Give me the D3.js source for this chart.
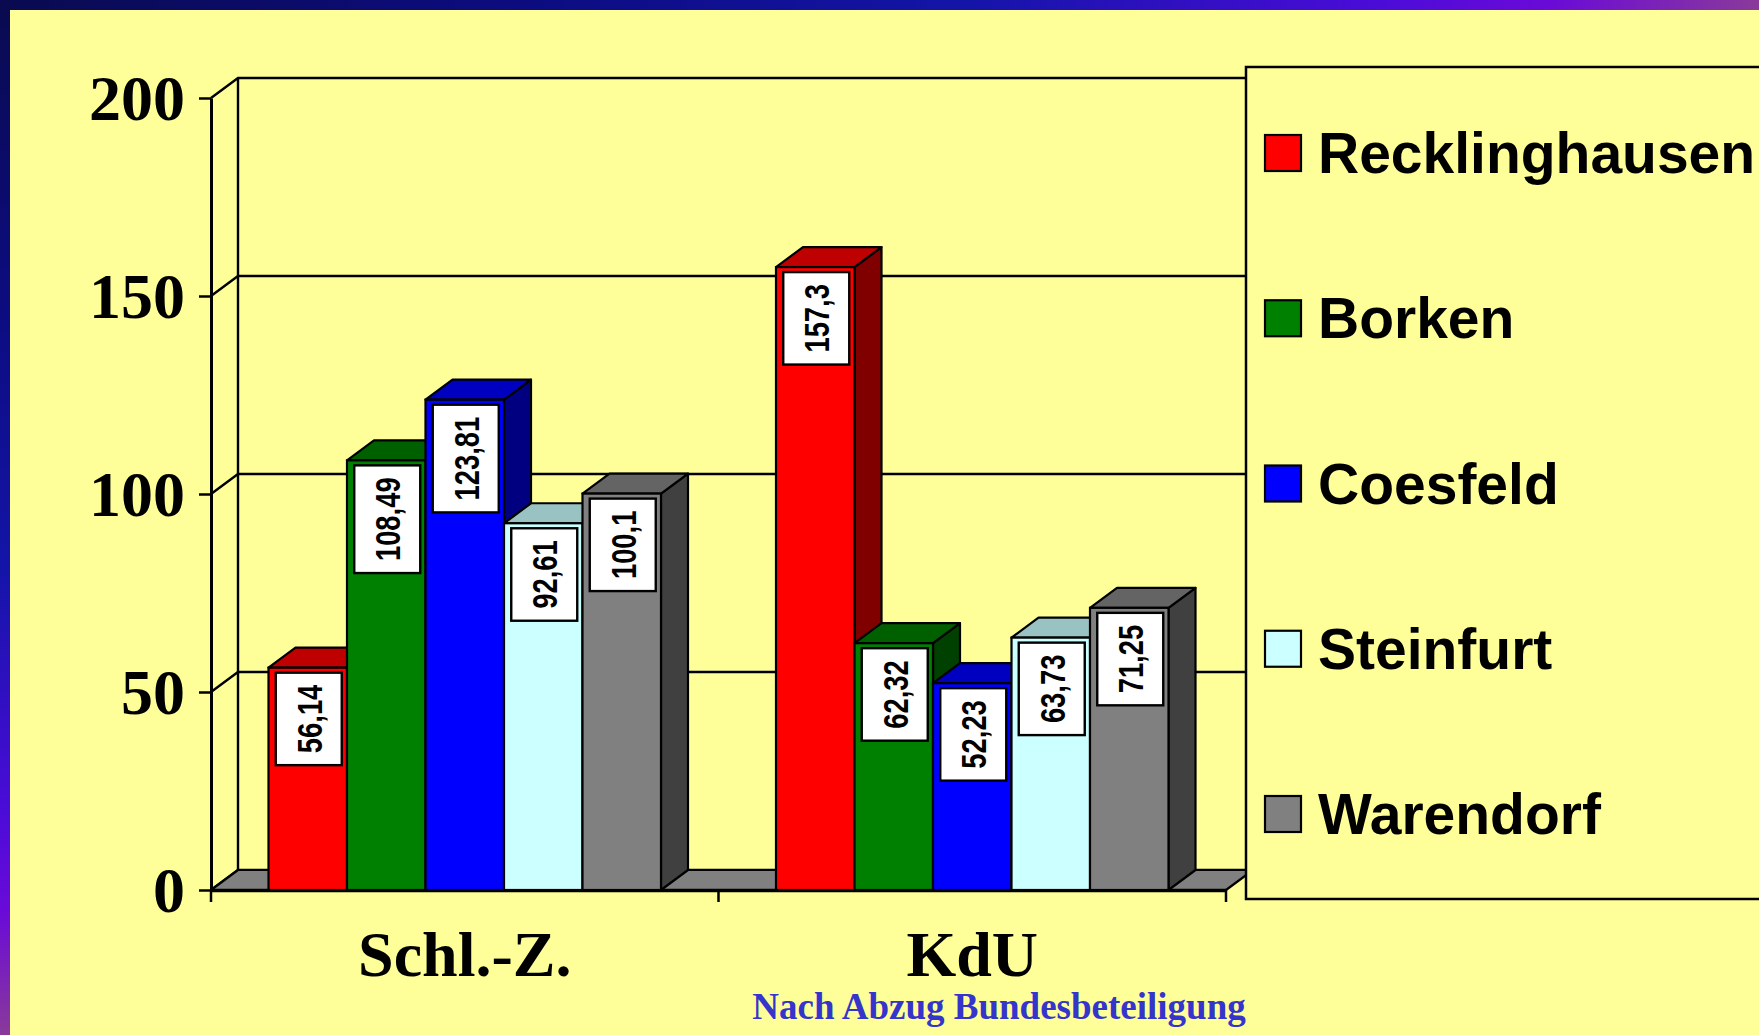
<!DOCTYPE html>
<html>
<head>
<meta charset="utf-8">
<script src="https://cdn.jsdelivr.net/npm/d3@7"></script>
<style>
  html, body { margin: 0; padding: 0; background: #FFFF99; overflow: hidden; }
  svg { display: block; }
</style>
</head>
<body>
<script>
// ---------- data ----------
const categories = ["Schl.-Z.", "KdU"];
const seriesNames = ["Recklinghausen", "Borken", "Coesfeld", "Steinfurt", "Warendorf"];
const valuesSchlZ = [56.14, 108.49, 123.81, 92.61, 100.1];
const valuesKdU = [157.3, 62.32, 52.23, 63.73, 71.25];
const yTickValues = [0, 50, 100, 150, 200];
const frontColors = ["#FF0000", "#008000", "#0000FF", "#CCFFFF", "#808080"];
const topColors = ["#BE0000", "#006000", "#0000C0", "#99C2C2", "#646464"];
const sideColors = ["#800000", "#004000", "#000080", "#7FA0A0", "#404040"];
const footnote = "Nach Abzug Bundesbeteiligung";

const W = 1759, H = 1035;
const DX = 27, DY = 20; // 3D depth offset

const serif = "'Liberation Serif','Times New Roman',Times,serif";
const sans = "'Liberation Sans',Arial,Helvetica,sans-serif";

const svg = d3.select("body").append("svg").attr("width", W).attr("height", H);

// ---------- frame background ----------
const defs = svg.append("defs");
const grad = defs.append("radialGradient").attr("id", "frame")
  .attr("cx", 0).attr("cy", 0).attr("r", 1).attr("fx", 0).attr("fy", 0);
[[0, "#0A0A50"], [0.3, "#0C0C80"], [0.55, "#1414A8"], [0.78, "#4A0CD8"], [0.88, "#6A0AD8"], [1, "#8A3A9A"]]
  .forEach(([o, c]) => grad.append("stop").attr("offset", o).attr("stop-color", c));
svg.append("rect").attr("width", W).attr("height", H).attr("fill", "url(#frame)");
svg.append("rect").attr("x", 10).attr("y", 10).attr("width", W - 10).attr("height", H - 10).attr("fill", "#FFFF99");

// ---------- scales ----------
const x0 = d3.scaleBand().domain(categories).range([211, 1226]).paddingInner(0).paddingOuter(0);
const innerPad = 57.5;
const x1 = d3.scaleBand().domain(seriesNames).range([innerPad, x0.bandwidth() - innerPad]).padding(0);
const y = d3.scaleLinear().domain([0, 200]).range([890, 98]);
const color = d3.scaleOrdinal().domain(seriesNames).range(frontColors);
const topColor = d3.scaleOrdinal().domain(seriesNames).range(topColors);
const sideColor = d3.scaleOrdinal().domain(seriesNames).range(sideColors);

const xL = x0.range()[0], xR = x0.range()[1];
const y0 = y(0), yTop = y(200);
const stroke = "#000";

const chart = svg.append("g");

// ---------- walls ----------
yTickValues.forEach(v => {
  chart.append("path")
    .attr("d", `M${xL},${y(v)} L${xL + DX},${y(v) - DY} L${xR + DX},${y(v) - DY}`)
    .attr("fill", "none").attr("stroke", stroke).attr("stroke-width", 2.4);
});
chart.append("line").attr("x1", xL + DX).attr("x2", xL + DX).attr("y1", yTop - DY).attr("y2", y0 - DY)
  .attr("stroke", stroke).attr("stroke-width", 2.4);

// floor
chart.append("path")
  .attr("d", `M${xL},${y0} L${xR},${y0} L${xR + DX},${y0 - DY} L${xL + DX},${y0 - DY} Z`)
  .attr("fill", "#808080").attr("stroke", stroke).attr("stroke-width", 2.2).attr("stroke-linejoin", "round");

// ---------- y axis ----------
const yAxis = d3.axisLeft(y).tickValues(yTickValues).tickSize(12).tickSizeOuter(0).tickPadding(14)
  .tickFormat(d3.format("d"));
const gy = chart.append("g").attr("transform", `translate(${xL},0)`).call(yAxis);
gy.select(".domain").attr("stroke", stroke).attr("stroke-width", 3);
gy.selectAll(".tick line").attr("stroke", stroke).attr("stroke-width", 2.5);
gy.selectAll(".tick text").attr("font-family", serif).attr("font-weight", "bold")
  .attr("font-size", 64).attr("fill", "#000").attr("dy", "0.34em");

// ---------- x axis ----------
const xAxis = d3.axisBottom(x0).tickSize(0).tickSizeOuter(0).tickFormat("");
const gx = chart.append("g").attr("transform", `translate(0,${y0})`).call(xAxis);
gx.select(".domain").attr("stroke", stroke).attr("stroke-width", 3.5);
gx.selectAll(".tick").remove();
const boundaries = [xL, ...categories.slice(1).map(c => x0(c)), xR];
gx.selectAll("line.bt").data(boundaries).join("line").attr("class", "bt")
  .attr("x1", d => d).attr("x2", d => d).attr("y1", 0).attr("y2", 12)
  .attr("stroke", stroke).attr("stroke-width", 2.5);
gx.selectAll("text.cat").data(categories).join("text").attr("class", "cat")
  .attr("x", d => x0(d) + x0.bandwidth() / 2).attr("y", 86)
  .attr("text-anchor", "middle").attr("font-family", serif).attr("font-weight", "bold")
  .attr("font-size", 64).attr("fill", "#000").text(d => d);

// ---------- bars ----------
const valuesByCat = { "Schl.-Z.": valuesSchlZ, "KdU": valuesKdU };
const fmt = v => String(v).replace(".", ",");

categories.forEach(cat => {
  const g = chart.append("g");
  const vals = valuesByCat[cat];
  seriesNames.forEach((s, i) => {
    const v = vals[i];
    const bx = x0(cat) + x1(s), bw = x1.bandwidth();
    const by = y(v);
    const bg = g.append("g");
    bg.append("path")
      .attr("d", `M${bx + bw},${by} L${bx + bw + DX},${by - DY} L${bx + bw + DX},${y0 - DY} L${bx + bw},${y0} Z`)
      .attr("fill", sideColor(s)).attr("stroke", stroke).attr("stroke-width", 2.2).attr("stroke-linejoin", "round");
    bg.append("path")
      .attr("d", `M${bx},${by} L${bx + DX},${by - DY} L${bx + bw + DX},${by - DY} L${bx + bw},${by} Z`)
      .attr("fill", topColor(s)).attr("stroke", stroke).attr("stroke-width", 2.2).attr("stroke-linejoin", "round");
    bg.append("rect").attr("x", bx).attr("y", by).attr("width", bw).attr("height", y0 - by)
      .attr("fill", color(s)).attr("stroke", stroke).attr("stroke-width", 2.2);
  });
  seriesNames.forEach((s, i) => {
    const v = vals[i];
    const bx = x0(cat) + x1(s), bw = x1.bandwidth();
    const by = y(v);
    const lg = g.append("g");
    const box = lg.append("rect");
    const sx = 0.76;
    const t = lg.append("text").attr("font-family", sans).attr("font-weight", "bold")
      .attr("font-size", 36).attr("fill", "#000").attr("text-anchor", "middle").text(fmt(v));
    const len = t.node().getComputedTextLength() * sx;
    const bh = len + 24, bwid = 66;
    const cx = bx + bw / 2 + 1, cy = by + 5 + bh / 2;
    box.attr("x", cx - bwid / 2).attr("y", by + 5).attr("width", bwid).attr("height", bh)
      .attr("fill", "#fff").attr("stroke", stroke).attr("stroke-width", 2.4);
    t.attr("transform", `translate(${cx},${cy}) rotate(-90) scale(${sx},1)`).attr("dy", "0.36em");
  });
});

// ---------- legend ----------
const legend = svg.append("g");
legend.append("rect").attr("x", 1246).attr("y", 67).attr("width", 600).attr("height", 832)
  .attr("fill", "#FFFF99").attr("stroke", stroke).attr("stroke-width", 2.5);
const legendY = d3.scalePoint().domain(seriesNames).range([153, 814]);
const items = legend.selectAll("g.item").data(seriesNames).join("g").attr("class", "item")
  .attr("transform", d => `translate(0,${legendY(d)})`);
items.append("rect").attr("x", 1265).attr("y", -18).attr("width", 36).attr("height", 36)
  .attr("fill", d => color(d)).attr("stroke", stroke).attr("stroke-width", 2.2);
items.append("text").attr("x", 1318).attr("y", 20).attr("font-family", sans).attr("font-weight", "bold")
  .attr("font-size", 57).attr("fill", "#000").text(d => d);

// ---------- footnote ----------
svg.append("text").attr("x", 999).attr("y", 1019).attr("text-anchor", "middle")
  .attr("font-family", serif).attr("font-weight", "bold").attr("font-size", 37)
  .attr("fill", "#3535CC").text(footnote);
</script>
</body>
</html>
